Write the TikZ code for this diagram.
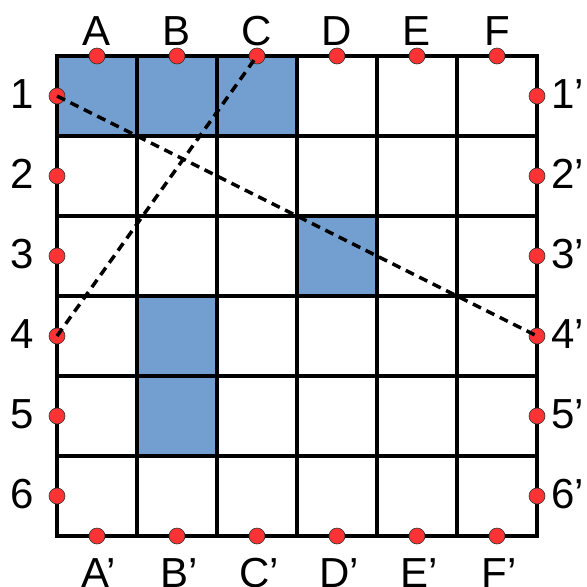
\documentclass[tikz,border=0pt]{standalone}
\usepackage{fontspec}
\setmainfont{Liberation Sans}
\definecolor{cellblue}{HTML}{729FCF}
\definecolor{dotred}{HTML}{FF3333}
\begin{document}
\begin{tikzpicture}[x=1pt,y=-1pt,
  dot/.style={circle,fill=dotred,draw=black!80,line width=0.6pt,minimum size=16pt,inner sep=0pt},
  lbl/.style={font=\fontsize{42}{42}\selectfont,inner sep=0pt},
  gridline/.style={line width=3.3pt,line cap=rect},
  cut/.style={line width=3.5pt,dash pattern=on 9pt off 6pt}]
\useasboundingbox (0,0) rectangle (587,587);
% shaded cells
\fill[cellblue] (57,56) rectangle (297,136);
\fill[cellblue] (297,216) rectangle (377,296);
\fill[cellblue] (137,296) rectangle (217,456);
% grid
\foreach \i in {0,...,6} {
  \draw[gridline] (57+80*\i,56) -- (57+80*\i,536);
  \draw[gridline] (57,56+80*\i) -- (537,56+80*\i);
}
% dots and labels
\foreach \l [count=\i from 0] in {A,B,C,D,E,F} {
  \node[dot] (t\l) at (97+80*\i,56) {};
  \node[dot] (b\l) at (97+80*\i,536) {};
  \node[lbl,anchor=base] (tl\l) at (97+80*\i,45) {\l};
  \node[lbl,anchor=base] (bl\l) at (99+80*\i,587) {\l'};
}
\foreach \n [count=\i from 0] in {1,2,3,4,5,6} {
  \node[dot] (l\n) at (57,96+80*\i) {};
  \node[dot] (r\n) at (537,96+80*\i) {};
  \node[lbl,anchor=base] (ll\n) at (22,108+80*\i) {\n};
  \node[lbl,anchor=base west] (rl\n) at (551,108+80*\i) {\n'};
}
% dashed lines
\draw[cut] (l1.center) -- (r4.center);
\draw[cut] (l4.center) -- (tC.center);
\end{tikzpicture}
\end{document}
